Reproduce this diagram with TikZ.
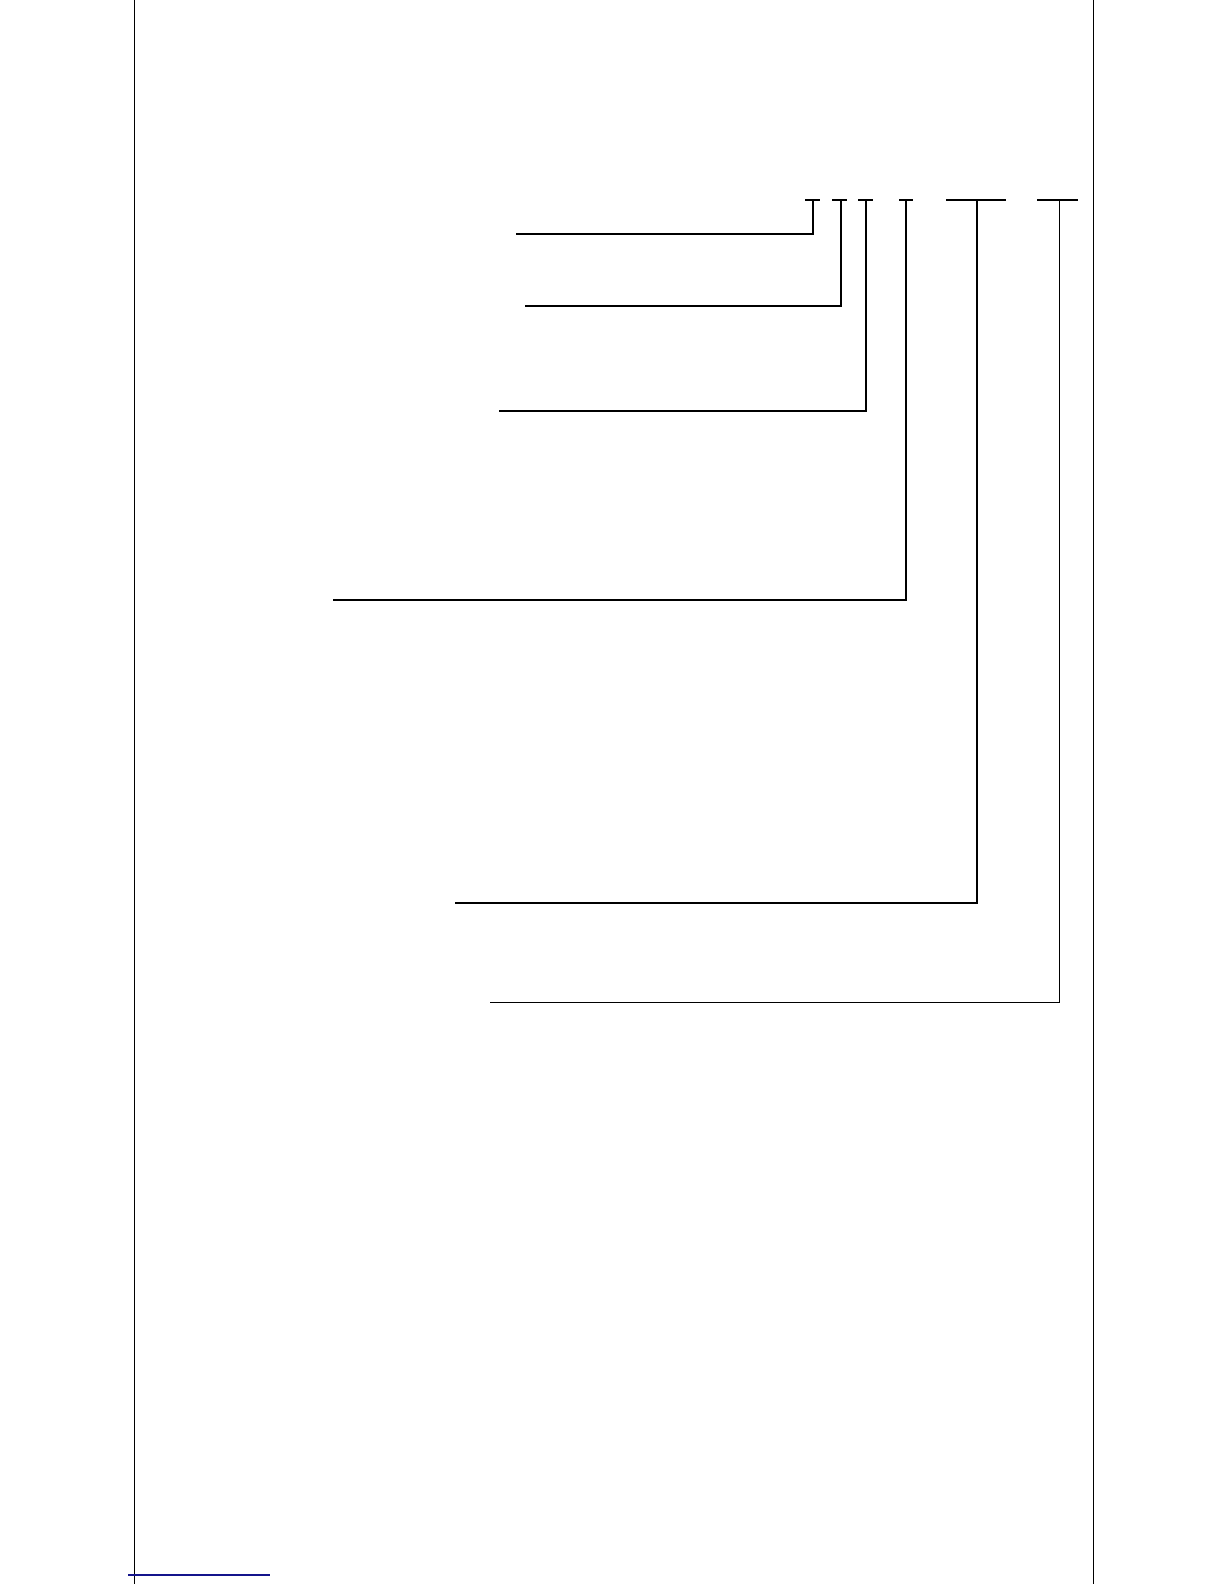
\documentclass[tikz,border=0pt]{standalone}
\usepackage{tikz}
\definecolor{rulenavy}{RGB}{20,20,140}
\tikzset{
  frame/.style={line width=1pt, black},
  leader/.style={line width=1.6pt, black},
  tick/.style={line width=1.6pt, black},
}
\begin{document}
\begin{tikzpicture}[x=1pt,y=-1pt]
\useasboundingbox[fill=white] (0,0) rectangle (1224,1584);
% page rules
\draw[frame] (134,0) -- (134,1584);
\draw[frame] (1093,0) -- (1093,1584);
\draw[line width=1.3pt, rulenavy] (128,1575) -- (270,1575);
% ticks above the code fields
\draw[tick] (805,200) -- (820,200);
\draw[tick] (832,200) -- (847,200);
\draw[tick] (858,200) -- (873,200);
\draw[tick] (899,200) -- (913,200);
\draw[tick] (946,200) -- (1006,200);
\draw[tick] (1037,200) -- (1078,200);
% field points
\coordinate (f1) at (813,200);
\coordinate (f2) at (841,200);
\coordinate (f3) at (866,200);
\coordinate (f4) at (906,200);
\coordinate (f5) at (977,200);
\coordinate (f6) at (1059,200);
% leader ends
\coordinate (e1) at (516,234);
\coordinate (e2) at (525,306);
\coordinate (e3) at (499,411);
\coordinate (e4) at (333,600);
\coordinate (e5) at (455,903);
\coordinate (e6) at (490,1002);
% leaders
\draw[leader] (f1) |- (e1);
\draw[leader] (f2) |- (e2);
\draw[leader] (f3) |- (e3);
\draw[leader] (f4) |- (e4);
\draw[leader] (f5) |- (e5);
\draw[leader, line width=1pt] (f6) |- (e6);
\end{tikzpicture}
\end{document}
